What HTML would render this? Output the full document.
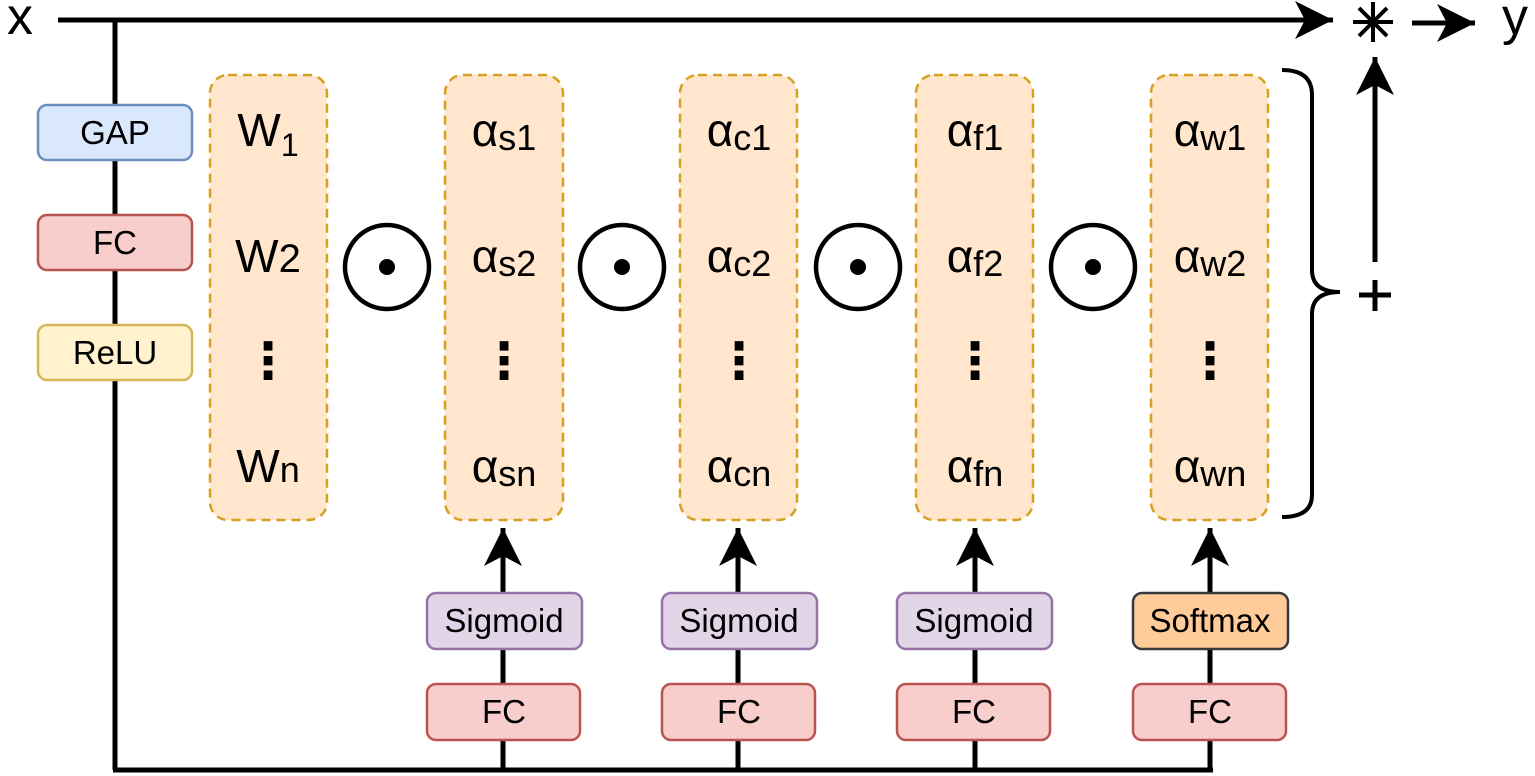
<!DOCTYPE html>
<html><head><meta charset="utf-8"><style>
body{margin:0;background:#fff;}
svg{display:block;font-family:"Liberation Sans","DejaVu Sans",sans-serif;}
</style></head><body>
<svg width="1535" height="776" viewBox="0 0 1535 776">
<defs>
<marker id="b" markerWidth="40" markerHeight="40" refX="38" refY="20" orient="auto" markerUnits="userSpaceOnUse" viewBox="0 0 40 40"><path d="M0,1 L38,20 L0,39 L10,20z" fill="#000"/></marker></defs>
<g stroke="#000" stroke-width="5" fill="none">
<line x1="58" y1="20" x2="1333" y2="20" marker-end="url(#b)"/>
<line x1="115" y1="20" x2="115" y2="770"/>
<line x1="113" y1="770" x2="1213" y2="770"/>
<line x1="503" y1="770" x2="503" y2="528" marker-end="url(#b)"/>
<line x1="738" y1="770" x2="738" y2="528" marker-end="url(#b)"/>
<line x1="975" y1="770" x2="975" y2="528" marker-end="url(#b)"/>
<line x1="1210" y1="770" x2="1210" y2="528" marker-end="url(#b)"/>
<line x1="1375" y1="262" x2="1375" y2="57" marker-end="url(#b)"/>
<line x1="1412" y1="23" x2="1475" y2="23" marker-end="url(#b)"/>
<path d="M1282,70 Q1312,70 1312,95 L1312,270 Q1312,292 1340,292 Q1312,292 1312,314 L1312,495 Q1312,517 1282,517" stroke-width="4"/>
<g stroke-width="4"><line x1="1373" y1="2" x2="1373" y2="42"/><line x1="1353" y1="22" x2="1393" y2="22"/><line x1="1359" y1="8" x2="1387" y2="36"/><line x1="1387" y1="8" x2="1359" y2="36"/></g>
<g stroke-width="5"><line x1="1375" y1="280" x2="1375" y2="311"/><line x1="1359" y1="295" x2="1391" y2="295"/></g>
</g>
<text x="20" y="34" font-size="52" text-anchor="middle">x</text>
<text x="1515" y="34" font-size="52" text-anchor="middle">y</text>
<g font-size="33" text-anchor="middle">
<rect x="38" y="105" width="154" height="55" rx="9" fill="#dae8fc" stroke="#6c8ebf" stroke-width="2.5"/><text x="115" y="144">GAP</text>
<rect x="38" y="215" width="154" height="55" rx="9" fill="#f8cecc" stroke="#b85450" stroke-width="2.5"/><text x="115" y="254">FC</text>
<rect x="38" y="325" width="154" height="55" rx="9" fill="#fff2cc" stroke="#d6b656" stroke-width="2.5"/><text x="115" y="364">ReLU</text>
<rect x="427" y="593" width="155" height="56" rx="9" fill="#e1d5e7" stroke="#9673a6" stroke-width="2.5"/><text x="504" y="632">Sigmoid</text>
<rect x="662" y="593" width="155" height="56" rx="9" fill="#e1d5e7" stroke="#9673a6" stroke-width="2.5"/><text x="739" y="632">Sigmoid</text>
<rect x="897" y="593" width="155" height="56" rx="9" fill="#e1d5e7" stroke="#9673a6" stroke-width="2.5"/><text x="974" y="632">Sigmoid</text>
<rect x="1133" y="593" width="155" height="56" rx="9" fill="#ffcc99" stroke="#36393d" stroke-width="2.5"/><text x="1210" y="632">Softmax</text>
<rect x="427" y="684" width="153" height="56" rx="9" fill="#f8cecc" stroke="#b85450" stroke-width="2.5"/><text x="504" y="723">FC</text>
<rect x="662" y="684" width="153" height="56" rx="9" fill="#f8cecc" stroke="#b85450" stroke-width="2.5"/><text x="739" y="723">FC</text>
<rect x="897" y="684" width="153" height="56" rx="9" fill="#f8cecc" stroke="#b85450" stroke-width="2.5"/><text x="974" y="723">FC</text>
<rect x="1133" y="684" width="153" height="56" rx="9" fill="#f8cecc" stroke="#b85450" stroke-width="2.5"/><text x="1210" y="723">FC</text>
</g>
<g fill="#ffe6cc" stroke="#d6a020" stroke-width="2.5" stroke-dasharray="9,6">
<rect x="210" y="75" width="117" height="445" rx="18"/>
<rect x="445" y="75" width="118" height="445" rx="18"/>
<rect x="680" y="75" width="117" height="445" rx="18"/>
<rect x="916" y="75" width="117" height="445" rx="18"/>
<rect x="1151" y="75" width="117" height="445" rx="18"/>
</g>
<g fill="none" stroke="#000" stroke-width="4.5">
<circle cx="387" cy="267" r="42"/><circle cx="622" cy="267" r="42"/><circle cx="858" cy="267" r="42"/><circle cx="1093" cy="267" r="42"/>
</g>
<g fill="#000"><circle cx="387" cy="267" r="8"/><circle cx="622" cy="267" r="8"/><circle cx="858" cy="267" r="8"/><circle cx="1093" cy="267" r="8"/></g>
<g font-size="46" text-anchor="middle">
<text x="268" y="146">W<tspan font-size="32" dy="10">1</tspan></text>
<text x="268" y="272">W<tspan font-size="40">2</tspan></text>
<text x="268" y="482">W<tspan font-size="36">n</tspan></text>
<g font-size="50" font-weight="bold"><text x="268" y="378">⋮</text><text x="504" y="378">⋮</text><text x="739" y="378">⋮</text><text x="975" y="378">⋮</text><text x="1210" y="378">⋮</text></g>
<text x="504" y="146">α<tspan font-size="36" dy="4">s1</tspan></text>
<text x="504" y="272">α<tspan font-size="36" dy="4">s2</tspan></text>
<text x="504" y="482">α<tspan font-size="36" dy="4">sn</tspan></text>
<text x="739" y="146">α<tspan font-size="36" dy="4">c1</tspan></text>
<text x="739" y="272">α<tspan font-size="36" dy="4">c2</tspan></text>
<text x="739" y="482">α<tspan font-size="36" dy="4">cn</tspan></text>
<text x="975" y="146">α<tspan font-size="36" dy="4">f1</tspan></text>
<text x="975" y="272">α<tspan font-size="36" dy="4">f2</tspan></text>
<text x="975" y="482">α<tspan font-size="36" dy="4">fn</tspan></text>
<text x="1210" y="146">α<tspan font-size="36" dy="4">w1</tspan></text>
<text x="1210" y="272">α<tspan font-size="36" dy="4">w2</tspan></text>
<text x="1210" y="482">α<tspan font-size="36" dy="4">wn</tspan></text>
</g>
</svg>
</body></html>
